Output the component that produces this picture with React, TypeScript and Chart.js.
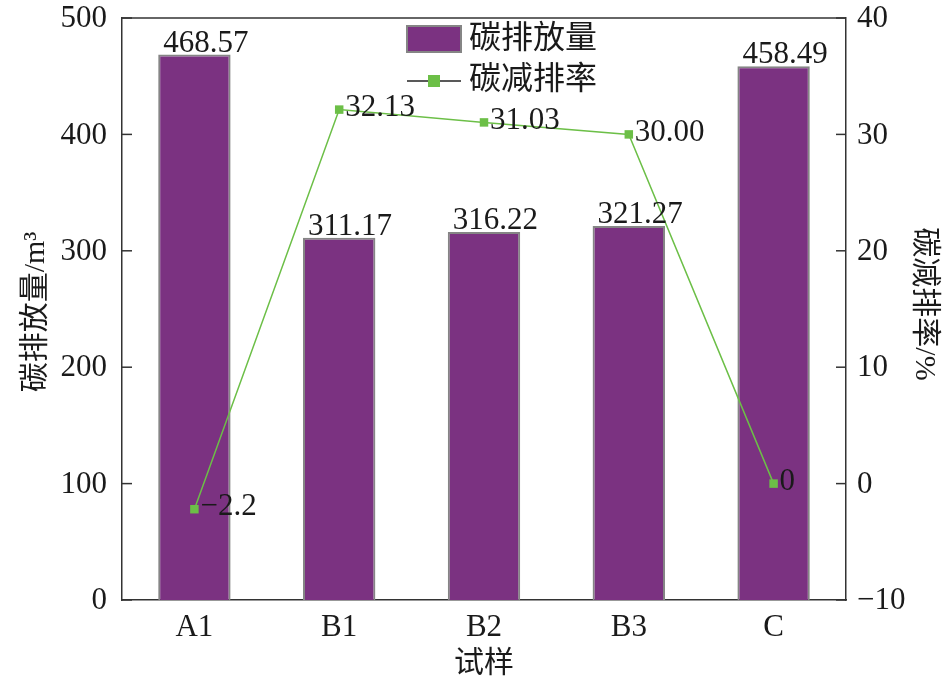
import React, { useEffect, useRef } from "react";
import { Chart, registerables } from "chart.js";

Chart.register(...registerables);

const categories = ["A1", "B1", "B2", "B3", "C"];
const emissions = [468.57, 311.17, 316.22, 321.27, 458.49];
const reductionRate = [-2.2, 32.13, 31.03, 30.0, 0];
const emissionLabels = ["468.57", "311.17", "316.22", "321.27", "458.49"];
const rateLabels = ["\u22122.2", "32.13", "31.03", "30.00", "0"];
const leftTicks = [0, 100, 200, 300, 400, 500];
const rightTicks = [-10, 0, 10, 20, 30, 40];
const rightTickLabels = ["\u221210", "0", "10", "20", "30", "40"];

const FONT = "'Liberation Serif', 'Noto Sans CJK SC', serif";
const BAR = "#7b3281";
const BAR_BORDER = "#858585";
const GREEN = "#6cbf47";
const TEXT = "#1a1a1a";
const AXIS = "#333333";
const NUM_SIZE = 31;
const CJK_SIZE = 30;

const overlay = {
  id: "overlay",
  afterDraw(chart: any) {
    const { ctx, chartArea } = chart;
    const x = chart.scales.x;
    const y = chart.scales.y;
    const y1 = chart.scales.y1;
    ctx.save();
    // top border
    ctx.strokeStyle = AXIS;
    ctx.lineWidth = 1.5;
    ctx.beginPath();
    ctx.moveTo(chartArea.left, chartArea.top);
    ctx.lineTo(chartArea.right, chartArea.top);
    ctx.stroke();
    // inward ticks + tick labels
    ctx.fillStyle = TEXT;
    ctx.font = `${NUM_SIZE}px ${FONT}`;
    ctx.textBaseline = "middle";
    ctx.textAlign = "right";
    leftTicks.forEach((v) => {
      const py = y.getPixelForValue(v);
      ctx.beginPath();
      ctx.moveTo(chartArea.left, py);
      ctx.lineTo(chartArea.left + 10, py);
      ctx.stroke();
      ctx.fillText(String(v), chartArea.left - 15, py + 1);
    });
    ctx.textAlign = "left";
    rightTicks.forEach((v, i) => {
      const py = y1.getPixelForValue(v);
      ctx.beginPath();
      ctx.moveTo(chartArea.right - 10, py);
      ctx.lineTo(chartArea.right, py);
      ctx.stroke();
      ctx.fillText(rightTickLabels[i], chartArea.right + 11, py + 1);
    });
    ctx.textAlign = "center";
    categories.forEach((c, i) => {
      ctx.fillText(c, x.getPixelForValue(i), 628);
    });
    // bar labels (start just inside the bar's left edge)
    ctx.textAlign = "left";
    ctx.textBaseline = "alphabetic";
    const barMeta = chart.getDatasetMeta(0);
    barMeta.data.forEach((el: any, i: number) => {
      ctx.fillText(emissionLabels[i], el.x - el.width / 2 + 5, el.y - 3);
    });
    // line labels
    ctx.textAlign = "left";
    ctx.textBaseline = "middle";
    const lineMeta = chart.getDatasetMeta(1);
    lineMeta.data.forEach((el: any, i: number) => {
      ctx.fillText(rateLabels[i], el.x + 6, el.y - 2);
    });
    // axis titles
    ctx.font = `${CJK_SIZE}px ${FONT}`;
    ctx.textAlign = "center";
    ctx.textBaseline = "middle";
    ctx.fillText("\u8bd5\u6837", (chartArea.left + chartArea.right) / 2, 664);
    ctx.save();
    ctx.translate(36, 312);
    ctx.rotate(-Math.PI / 2);
    ctx.fillText("\u78b3\u6392\u653e\u91cf/m\u00b3", 0, 0);
    ctx.restore();
    ctx.save();
    ctx.translate(924, 304);
    ctx.rotate(Math.PI / 2);
    ctx.fillText("\u78b3\u51cf\u6392\u7387/%", 0, 0);
    ctx.restore();
    // legend
    const lx = 407;
    ctx.fillStyle = BAR;
    ctx.fillRect(lx, 26, 54, 26);
    ctx.strokeStyle = BAR_BORDER;
    ctx.lineWidth = 2;
    ctx.strokeRect(lx, 26, 54, 26);
    ctx.strokeStyle = "#222";
    ctx.lineWidth = 1.5;
    ctx.beginPath();
    ctx.moveTo(lx, 81);
    ctx.lineTo(lx + 54, 81);
    ctx.stroke();
    ctx.fillStyle = GREEN;
    ctx.fillRect(lx + 21, 75, 12, 12);
    ctx.fillStyle = TEXT;
    ctx.textAlign = "left";
    ctx.font = `32px ${FONT}`;
    ctx.fillText("\u78b3\u6392\u653e\u91cf", 469, 40);
    ctx.fillText("\u78b3\u51cf\u6392\u7387", 469, 81);
    ctx.restore();
  },
};

export default function App() {
  const ref = useRef<HTMLCanvasElement>(null);
  useEffect(() => {
    document.body.style.margin = "0";
    const chart = new Chart(ref.current!, {
      type: "bar",
      data: {
        labels: categories,
        datasets: [
          {
            type: "bar",
            label: "\u78b3\u6392\u653e\u91cf",
            data: emissions,
            backgroundColor: BAR,
            borderColor: BAR_BORDER,
            borderWidth: 2,
            yAxisID: "y",
            categoryPercentage: 1,
            barPercentage: 0.5,
            order: 2,
          },
          {
            type: "line",
            label: "\u78b3\u51cf\u6392\u7387",
            data: reductionRate,
            borderColor: GREEN,
            borderWidth: 1.5,
            backgroundColor: GREEN,
            pointStyle: "rect",
            pointRadius: 6,
            pointBorderWidth: 0,
            yAxisID: "y1",
            order: 1,
          } as any,
        ],
      },
      options: {
        animation: false,
        responsive: false,
        layout: { padding: { top: 18 } },
        plugins: { legend: { display: false }, tooltip: { enabled: false } },
        scales: {
          x: {
            grid: { display: false, drawTicks: false },
            border: { display: true, color: AXIS, width: 1.5 },
            ticks: { display: false },
            afterFit: (s: any) => {
              s.height = 86;
            },
          },
          y: {
            position: "left",
            min: 0,
            max: 500,
            grid: { display: false, drawTicks: false },
            border: { display: true, color: AXIS, width: 1.5 },
            ticks: { display: false, stepSize: 100 },
            afterFit: (s: any) => {
              s.width = 122;
            },
          },
          y1: {
            position: "right",
            min: -10,
            max: 40,
            grid: { display: false, drawTicks: false },
            border: { display: true, color: AXIS, width: 1.5 },
            ticks: { display: false, stepSize: 10 },
            afterFit: (s: any) => {
              s.width = 102;
            },
          },
        },
      },
      plugins: [overlay],
    });
    return () => chart.destroy();
  }, []);
  return <canvas ref={ref} width={948} height={686} style={{ display: "block" }} />;
}
